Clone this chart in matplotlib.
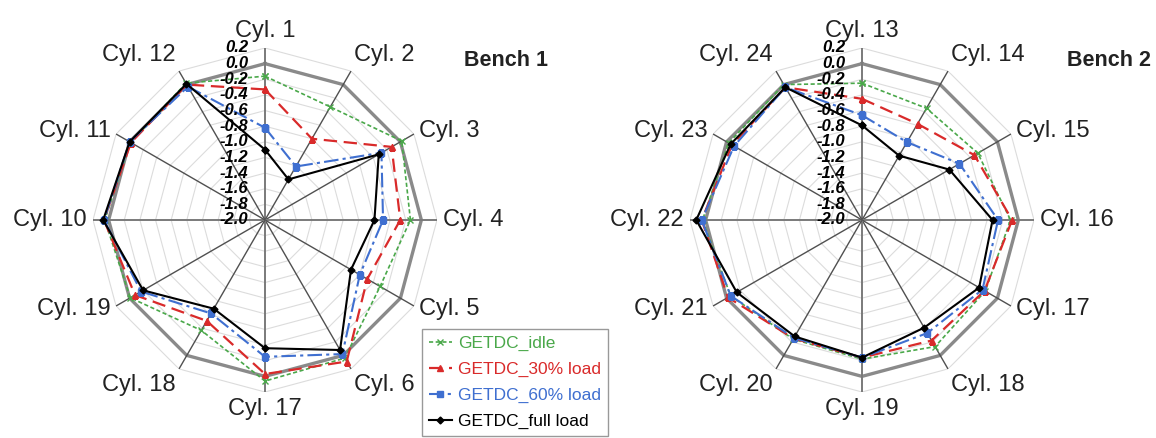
import numpy as np
import matplotlib
matplotlib.use('Agg')
import matplotlib.pyplot as plt

# === Data (deviation per cylinder) ===
bench1_cyl = ['Cyl. 1', 'Cyl. 2', 'Cyl. 3', 'Cyl. 4', 'Cyl. 5', 'Cyl. 6',
              'Cyl. 17', 'Cyl. 18', 'Cyl. 19', 'Cyl. 10', 'Cyl. 11', 'Cyl. 12']
bench1_idle = [-0.16, -0.33, 0.02, -0.14, -0.30, 0.04, 0.06, -0.37, -0.01, 0.05, -0.01, 0.02]
bench1_30 = [-0.33, -0.80, -0.13, -0.27, -0.49, 0.09, -0.03, -0.51, -0.08, 0.06, -0.02, 0.00]
bench1_60 = [-0.82, -1.21, -0.28, -0.49, -0.60, -0.02, -0.25, -0.62, -0.17, 0.06, 0.00, -0.03]
bench1_full = [-1.10, -1.40, -0.32, -0.60, -0.73, -0.08, -0.36, -0.69, -0.20, 0.07, 0.00, 0.01]

bench2_cyl = ['Cyl. 13', 'Cyl. 14', 'Cyl. 15', 'Cyl. 16', 'Cyl. 17', 'Cyl. 18',
              'Cyl. 19', 'Cyl. 20', 'Cyl. 21', 'Cyl. 22', 'Cyl. 23', 'Cyl. 24']
bench2_idle = [-0.25, -0.35, -0.29, -0.10, -0.18, -0.13, -0.22, -0.24, -0.06, 0.04, -0.03, 0.00]
bench2_30 = [-0.45, -0.58, -0.34, -0.08, -0.19, -0.22, -0.24, -0.25, -0.02, 0.05, -0.08, -0.04]
bench2_60 = [-0.66, -0.85, -0.56, -0.26, -0.22, -0.33, -0.24, -0.26, -0.06, 0.05, -0.11, -0.04]
bench2_full = [-0.79, -1.05, -0.71, -0.33, -0.27, -0.41, -0.24, -0.28, -0.15, 0.12, -0.06, -0.04]

series_names = ['GETDC_idle', 'GETDC_30% load', 'GETDC_60% load', 'GETDC_full load']
r_ticks = np.round(np.arange(0.2, -2.01, -0.2), 1)

# === Styles ===
styles = [
    dict(color='#4aa84a', ls=(0, (2.5, 1.5)), lw=1.2, marker='x', ms=4, mew=1.0),
    dict(color='#d92a2a', ls=(0, (6, 3)), lw=1.6, marker='^', ms=4.5),
    dict(color='#3f6fd0', ls=(0, (7, 2, 1.5, 2)), lw=1.5, marker='s', ms=4),
    dict(color='black', ls='-', lw=1.5, marker='D', ms=3.5),
]
# label alignment by spoke index (0 = top, clockwise)
align = [('center', 'bottom'), ('left', 'bottom'), ('left', 'center'), ('left', 'center'),
         ('left', 'center'), ('left', 'top'), ('center', 'top'), ('right', 'top'),
         ('right', 'center'), ('right', 'center'), ('right', 'center'), ('right', 'bottom')]

W, H = 1156, 438
fig = plt.figure(figsize=(W / 100, H / 100), dpi=100)

theta = np.arange(12) * 2 * np.pi / 12
theta_c = np.append(theta, theta[0])


def radar(cx, cy, rad, cyls, data, title, tx):
    ax = fig.add_axes([(cx - rad) / W, (H - cy - rad) / H, 2 * rad / W, 2 * rad / H],
                      projection='polar')
    ax.set_theta_zero_location('N')
    ax.set_theta_direction(-1)
    ax.set_ylim(-2.0, 0.2)
    ax.set_xticks([])
    ax.set_yticks([])
    ax.grid(False)
    ax.spines['polar'].set_visible(False)
    ax.patch.set_alpha(0)

    # rings
    for v in r_ticks[:-1]:
        if abs(v) < 1e-9:
            continue
        ax.plot(theta_c, [v] * 13, color='#dcdcdc', lw=0.8, zorder=1)
    ax.plot(theta_c, [0.0] * 13, color='#8a8a8a', lw=2.4, zorder=2)
    # spokes
    for i, t in enumerate(theta):
        main = i % 3 == 0
        ax.plot([t, t], [-2.0, 0.2], color='#7a7a7a' if main else '#505050',
                lw=1.4 if main else 1.0, zorder=2)

    for vals, st in zip(data, styles):
        ax.plot(theta_c, vals + vals[:1], zorder=3, **st)

    for v in r_ticks:
        ax.annotate(f'{v:.1f}', xy=(0, v), xytext=(-17, 0), textcoords='offset pixels',
                    ha='right', va='center', fontsize=12, fontweight='bold',
                    fontstyle='italic', family='Liberation Sans', zorder=5)

    for i, (t, name) in enumerate(zip(theta, cyls)):
        ha, va = align[i]
        ax.annotate(name, xy=(t, 0.2), xytext=(6 * np.sin(t), 6 * np.cos(t)),
                    textcoords='offset pixels', ha=ha, va=va, fontsize=17,
                    family='Liberation Sans', color='#222222', annotation_clip=False)

    fig.text(tx / W, 1 - 60 / H, title, ha='center', va='center', fontsize=15.5,
             fontweight='bold', family='Liberation Sans', color='#222222')
    return ax


ax1 = radar(265, 220, 172, bench1_cyl, [bench1_idle, bench1_30, bench1_60, bench1_full],
            'Bench 1', 506)
ax2 = radar(862, 220, 172, bench2_cyl, [bench2_idle, bench2_30, bench2_60, bench2_full],
            'Bench 2', 1109)

handles = ax1.get_lines()[-4:]
leg = fig.legend(handles, series_names, loc='upper left',
                 bbox_to_anchor=(422 / W, 1 - 329 / H), bbox_transform=fig.transFigure,
                 borderaxespad=0, fancybox=False, edgecolor='#999999', framealpha=1,
                 labelcolor='linecolor', handlelength=1.3, handletextpad=0.4,
                 labelspacing=0.62, borderpad=0.4,
                 prop={'family': 'Liberation Sans', 'size': 12.5})
leg.get_frame().set_linewidth(1.0)

fig.savefig('out.png', dpi=100)
